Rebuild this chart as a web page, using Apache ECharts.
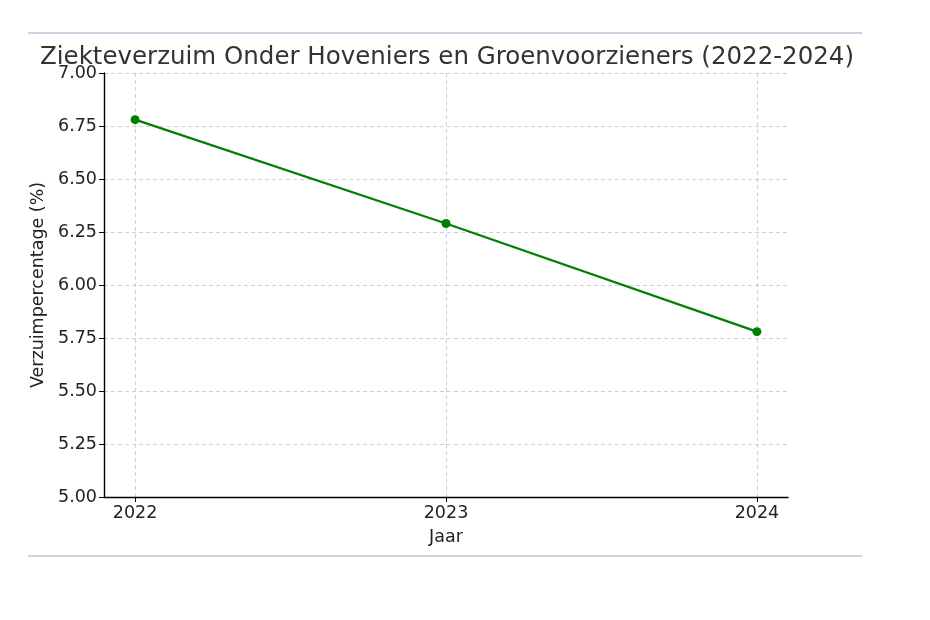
<!DOCTYPE html>
<html>
<head>
<meta charset="utf-8">
<script src="https://cdn.jsdelivr.net/npm/echarts@6/dist/echarts.min.js"></script>
<style>html,body{margin:0;padding:0;background:#fff;}#c{width:930px;height:620px;}</style>
</head>
<body>
<div id="c"></div>
<script>
const years = [2022, 2023, 2024];
const verzuim = [6.78, 6.29, 5.78];
const yTicks = [5.00, 5.25, 5.50, 5.75, 6.00, 6.25, 6.50, 6.75, 7.00];

const chart = echarts.init(document.getElementById('c'), null, {renderer: 'canvas'});
const font = 'DejaVu Sans';
const option = {
  backgroundColor: '#ffffff',
  animation: false,
  title: {
    text: 'Ziekteverzuim Onder Hoveniers en Groenvoorzieners (2022-2024)',
    left: 35,
    top: 40,
    textStyle: {fontFamily: font, fontSize: 24.5, fontWeight: 'normal', color: '#333333'}
  },
  grid: {left: 104, right: 142, top: 73, bottom: 123, containLabel: false},
  xAxis: {
    type: 'value',
    min: 2021.9,
    max: 2024.1,
    name: 'Jaar',
    nameLocation: 'middle',
    nameGap: 31,
    nameTextStyle: {fontFamily: font, fontSize: 17.5, color: '#222'},
    axisLine: {show: true, onZero: false, lineStyle: {color: '#000', width: 1.4}},
    axisTick: {show: true, customValues: years, length: 5, inside: false, lineStyle: {color: '#000'}},
    axisLabel: {customValues: years, fontFamily: font, fontSize: 17.5, color: '#222', margin: 7, formatter: v => String(Math.round(v))},
    splitLine: {show: true, lineStyle: {color: '#c4c4c4', type: [4, 3], width: 0.8}}
  },
  yAxis: {
    type: 'value',
    min: 5,
    max: 7,
    interval: 0.25,
    name: 'Verzuimpercentage (%)',
    nameLocation: 'middle',
    nameGap: 48,
    nameTextStyle: {fontFamily: font, fontSize: 17.5, color: '#222'},
    axisLine: {show: true, lineStyle: {color: '#000', width: 1.4}},
    axisTick: {show: true, length: 5, lineStyle: {color: '#000'}},
    axisLabel: {fontFamily: font, fontSize: 17.5, color: '#222', margin: 7, formatter: v => v.toFixed(2)},
    splitLine: {show: true, lineStyle: {color: '#c4c4c4', type: [4, 3], width: 0.8}}
  },
  series: [{
    type: 'line',
    data: years.map((y, i) => [y, verzuim[i]]),
    lineStyle: {color: '#008000', width: 2.2},
    itemStyle: {color: '#008000'},
    symbol: 'circle',
    symbolSize: 9,
    showSymbol: true
  }],
  graphic: [
    {type: 'line', shape: {x1: 28, y1: 33, x2: 862, y2: 33}, style: {stroke: '#c9d4e4', lineWidth: 2}},
    {type: 'line', shape: {x1: 28, y1: 556, x2: 862, y2: 556}, style: {stroke: '#c9d4e4', lineWidth: 2}}
  ]
};
chart.setOption(option);
</script>
</body>
</html>
